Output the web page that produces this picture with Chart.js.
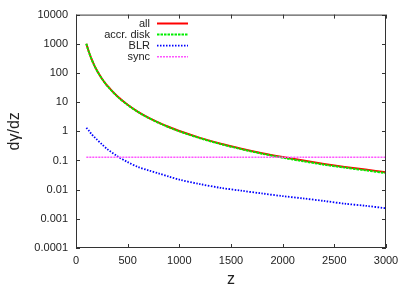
<!DOCTYPE html>
<html lang="en">
<head>
  <meta charset="UTF-8">
  <title>dgamma/dz vs z</title>
  <script src="https://cdn.jsdelivr.net/npm/chart.js"></script>
  <style>
    body { margin: 0; background: white; }
    #wrap { width: 407px; height: 285px; position: relative; }
  </style>
</head>
<body>
  <div id="wrap"><canvas id="chart"></canvas></div>

  <script>
    // values
    const zVals    = [100, 125, 150, 175, 200, 250, 300, 400, 500, 600, 700, 800, 900, 1000,
                      1200, 1400, 1600, 1800, 2000, 2200, 2400, 2600, 2800, 3000];
    const diskVals = [1000, 520, 300, 188, 125, 64, 37, 15.6, 8.0, 4.6, 2.9, 1.95, 1.37, 1.0,
                      0.58, 0.365, 0.245, 0.171, 0.125, 0.094, 0.072, 0.057, 0.046, 0.037];
    const allVals  = [1001, 521, 301, 189, 126, 64.5, 37.3, 15.8, 8.1, 4.66, 2.95, 1.99, 1.40, 1.02,
                      0.596, 0.377, 0.254, 0.178, 0.131, 0.099, 0.076, 0.060, 0.049, 0.0395];
    const blrVals  = [1.32, 1.05, 0.8, 0.65, 0.53, 0.36, 0.25, 0.14, 0.088, 0.06, 0.046, 0.036, 0.028, 0.022,
                      0.0155, 0.0115, 0.0092, 0.0074, 0.006, 0.005, 0.0041, 0.0033, 0.0028, 0.0023];
    const syncVals = zVals.map(() => 0.13);

    const seriesLabels = ['all', 'accr. disk', 'BLR', 'sync'];
    const xTickValues = [0, 500, 1000, 1500, 2000, 2500, 3000];
    const xTickLabels = ['0', '500', '1000', '1500', '2000', '2500', '3000'];
    const yTickValues = [0.0001, 0.001, 0.01, 0.1, 1, 10, 100, 1000, 10000];
    const yTickLabels = ['0.0001', '0.001', '0.01', '0.1', '1', '10', '100', '1000', '10000'];

    const FONT = "'Liberation Sans', Arial, sans-serif";
    const pts = vals => zVals.map((z, i) => ({ x: z, y: vals[i] }));

    // frame, inward ticks on all sides, gnuplot-style key
    const gnuplotLook = {
      id: 'gnuplotLook',
      afterDatasetsDraw(chart) {
        const { ctx, chartArea: a, scales: { x, y } } = chart;
        ctx.save();
        ctx.strokeStyle = '#333';
        ctx.lineWidth = 1;
        ctx.setLineDash([]);
        ctx.strokeRect(a.left + 0.5, a.top + 0.5, a.right - a.left - 1, a.bottom - a.top - 1);
        const len = 4;
        ctx.beginPath();
        x.ticks.forEach(t => {
          const px = Math.round(x.getPixelForValue(t.value)) + 0.5;
          ctx.moveTo(px, a.bottom); ctx.lineTo(px, a.bottom - len);
          ctx.moveTo(px, a.top); ctx.lineTo(px, a.top + len);
        });
        y.ticks.forEach(t => {
          const py = Math.round(y.getPixelForValue(t.value)) + 0.5;
          ctx.moveTo(a.left, py); ctx.lineTo(a.left + len, py);
          ctx.moveTo(a.right, py); ctx.lineTo(a.right - len, py);
        });
        ctx.stroke();

        // key
        ctx.font = '11px ' + FONT;
        ctx.textAlign = 'right';
        ctx.textBaseline = 'middle';
        chart.data.datasets.forEach((ds, i) => {
          const ry = 23.5 + i * 11.1;
          ctx.fillStyle = '#222';
          ctx.fillText(ds.label, 150, ry);
          ctx.strokeStyle = ds.borderColor;
          ctx.lineWidth = ds.borderWidth;
          ctx.setLineDash(ds.borderDash || []);
          ctx.beginPath();
          ctx.moveTo(157, ry);
          ctx.lineTo(188, ry);
          ctx.stroke();
        });
        ctx.restore();
      }
    };

    new Chart(document.getElementById('chart'), {
      type: 'line',
      data: {
        datasets: [
          { label: seriesLabels[0], data: pts(allVals), borderColor: '#ff0000', borderWidth: 2, order: 4 },
          { label: seriesLabels[1], data: pts(diskVals), borderColor: '#00ee00', borderWidth: 2, borderDash: [2.5, 1], order: 3 },
          { label: seriesLabels[2], data: pts(blrVals), borderColor: '#0000ff', borderWidth: 1.8, borderDash: [1.5, 1.5], order: 2 },
          { label: seriesLabels[3], data: pts(syncVals), borderColor: '#ff55ff', borderWidth: 1.5, borderDash: [2, 1], order: 1 }
        ]
      },
      options: {
        responsive: true,
        maintainAspectRatio: false,
        animation: false,
        layout: { padding: { top: 14, right: 21, left: 0, bottom: 0 } },
        elements: { point: { radius: 0 }, line: { tension: 0.3, fill: false } },
        plugins: { legend: { display: false }, tooltip: { enabled: false } },
        scales: {
          x: {
            type: 'linear',
            min: 0, max: 3000,
            afterFit: s => { s.height = 37; },
            afterBuildTicks: s => { s.ticks = xTickValues.map(v => ({ value: v })); },
            grid: { display: false, drawTicks: false },
            border: { display: false },
            ticks: {
              padding: 6, color: '#222', font: { family: FONT, size: 11 }, maxRotation: 0,
              callback: v => xTickLabels[xTickValues.indexOf(v)]
            },
            title: { display: true, text: 'z', color: '#222', font: { family: FONT, size: 16 }, padding: { top: 0, bottom: -4 } }
          },
          y: {
            type: 'logarithmic',
            min: 0.0001, max: 10000,
            afterFit: s => { s.width = 76; },
            afterBuildTicks: s => { s.ticks = yTickValues.map(v => ({ value: v })); },
            grid: { display: false, drawTicks: false },
            border: { display: false },
            ticks: {
              padding: 8, color: '#222', font: { family: FONT, size: 11 },
              callback: v => yTickLabels[yTickValues.indexOf(v)]
            },
            title: { display: true, text: 'dγ/dz', color: '#222', font: { family: FONT, size: 16 }, padding: { top: 5, bottom: 0 } }
          }
        }
      },
      plugins: [gnuplotLook]
    });
  </script>
</body>
</html>
